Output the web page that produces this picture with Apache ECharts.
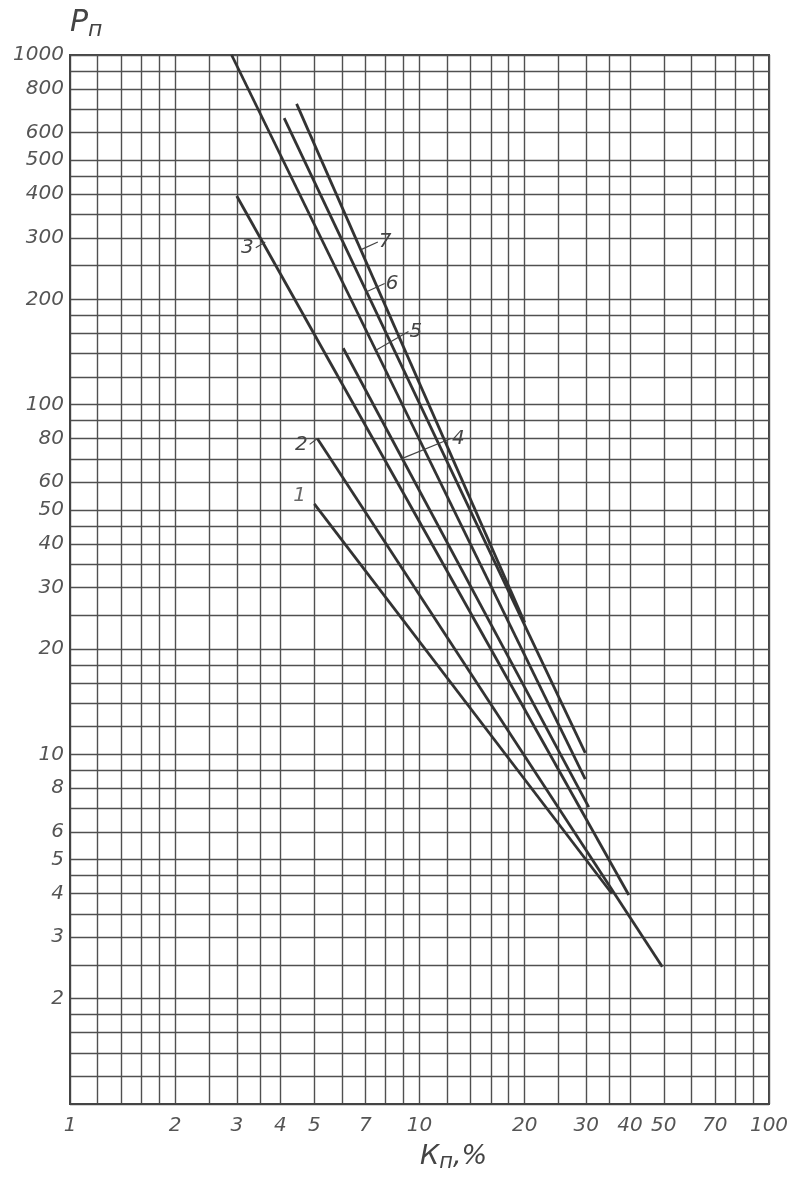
<!DOCTYPE html>
<html>
<head>
<meta charset="utf-8">
<script src="https://cdn.jsdelivr.net/npm/echarts@6/dist/echarts.min.js"></script>
<style>
html,body{margin:0;padding:0;background:#fff;}
#chart{width:795px;height:1185px;}
</style>
</head>
<body>
<div id="chart"></div>
<script>
// grid (paper) values
const xGrid = [1,1.2,1.4,1.6,1.8,2,2.5,3,3.5,4,5,6,7,8,9,
               10,12,14,16,18,20,25,30,35,40,50,60,70,80,90,100];
const yGrid = [1,1.2,1.4,1.6,1.8,2,2.5,3,3.5,4,4.5,5,6,7,8,9,
               10,12,14,16,18,20,25,30,35,40,45,50,60,70,80,90,
               100,120,140,160,180,200,250,300,350,400,450,500,600,700,800,900,1000];
// tick labels
const xLabels = [1,2,3,4,5,7,10,20,30,40,50,70,100];
const yLabels = [2,3,4,5,6,8,10,20,30,40,50,60,80,100,200,300,400,500,600,800,1000];

// curves [Kn, Pn]
const curve1 = [[5.0, 52], [35.5, 4.0]];
const curve2 = [[5.1, 80], [49.5, 2.47]];
const curve3 = [[3.0, 395], [39.7, 3.96]];
const curve4 = [[6.05, 145], [30.5, 7.06]];
const curve5 = [[2.9, 1000], [29.8, 8.5]];
const curve6 = [[4.1, 660], [29.8, 10.1]];
const curve7 = [[4.45, 725], [20.0, 23.8]];

// curve labels: [text, anchor on curve, label point, side]
const curveLabels = [
  ['7', [6.83, 278], [7.6, 292], 'right'],
  ['6', [7.03, 210], [7.95, 222], 'right'],
  ['5', [7.46, 142.6], [9.3, 162], 'right'],
  ['4', [8.9, 70.1], [12.3, 80], 'right'],
  ['3', [3.62, 292], [3.4, 281], 'left'],
  ['2', [5.1, 80], [4.85, 77], 'left'],
  ['1', null, [4.8, 55], 'left']
];

const fontFam = 'DejaVu Sans, sans-serif';
const curveStyle = {color: '#333', width: 2.8};
const txt = {fontFamily: fontFam, fontStyle: 'italic', fontSize: 20, color: '#444'};

const series = [curve1, curve2, curve3, curve4, curve5, curve6, curve7].map((d, i) => ({
  type: 'line', name: 'curve' + (i + 1), data: d, showSymbol: false, symbol: 'none',
  lineStyle: curveStyle, silent: true, z: 3
}));

curveLabels.forEach(([t, a, p, side]) => {
  if (a) {
    series.push({
      type: 'line', data: [a, p], symbol: 'none', silent: true, z: 4,
      lineStyle: {color: '#444', width: 1.2},
      endLabel: Object.assign({show: true, formatter: t, distance: 1},
        side === 'left' ? {align: 'right', offset: [-3, 0]} : {}, txt)
    });
  } else {
    series.push({
      type: 'scatter', data: [p], symbolSize: 0, silent: true, z: 4,
      label: Object.assign({show: true, formatter: t, position: side, distance: 2}, txt)
    });
  }
});

const axisLabelStyle = {fontFamily: fontFam, fontStyle: 'italic', fontSize: 20, color: '#555',
  formatter: v => String(Math.round(v * 1000) / 1000)};

const option = {
  animation: false,
  backgroundColor: '#fff',
  grid: {left: 70, right: 26, top: 55, bottom: 81, show: true, borderColor: '#444', borderWidth: 2},
  xAxis: {
    type: 'log', logBase: 10, min: 1, max: 100,
    axisLine: {show: true, lineStyle: {color: '#444', width: 2}},
    axisTick: {show: false, customValues: xGrid},
    splitLine: {show: true, lineStyle: {color: '#505050', width: 1.4}},
    axisLabel: Object.assign({customValues: xLabels, margin: 12}, axisLabelStyle)
  },
  yAxis: {
    type: 'log', logBase: 10, min: 1, max: 1000,
    axisLine: {show: true, lineStyle: {color: '#444', width: 2}},
    axisTick: {show: false, customValues: yGrid},
    splitLine: {show: true, lineStyle: {color: '#505050', width: 1.4}},
    axisLabel: Object.assign({customValues: yLabels, margin: 6}, axisLabelStyle)
  },
  graphic: [
    {type: 'text', left: 70, top: 8, style: {
      text: '{a|Р}{b|п}', fill: '#444',
      rich: {a: {fontFamily: fontFam, fontStyle: 'italic', fontSize: 30, fill: '#444'},
             b: {fontFamily: fontFam, fontStyle: 'italic', fontSize: 22, fill: '#444', padding: [14, 0, 0, 0]}}
    }},
    {type: 'text', left: 420, top: 1143, style: {
      text: '{a|К}{b|п}{a|,%}', fill: '#444',
      rich: {a: {fontFamily: fontFam, fontStyle: 'italic', fontSize: 27, fill: '#444'},
             b: {fontFamily: fontFam, fontStyle: 'italic', fontSize: 21, fill: '#444', padding: [12, 0, 0, 0]}}
    }}
  ],
  series: series
};

const chart = echarts.init(document.getElementById('chart'), null, {renderer: 'canvas'});
chart.setOption(option);
</script>
</body>
</html>
